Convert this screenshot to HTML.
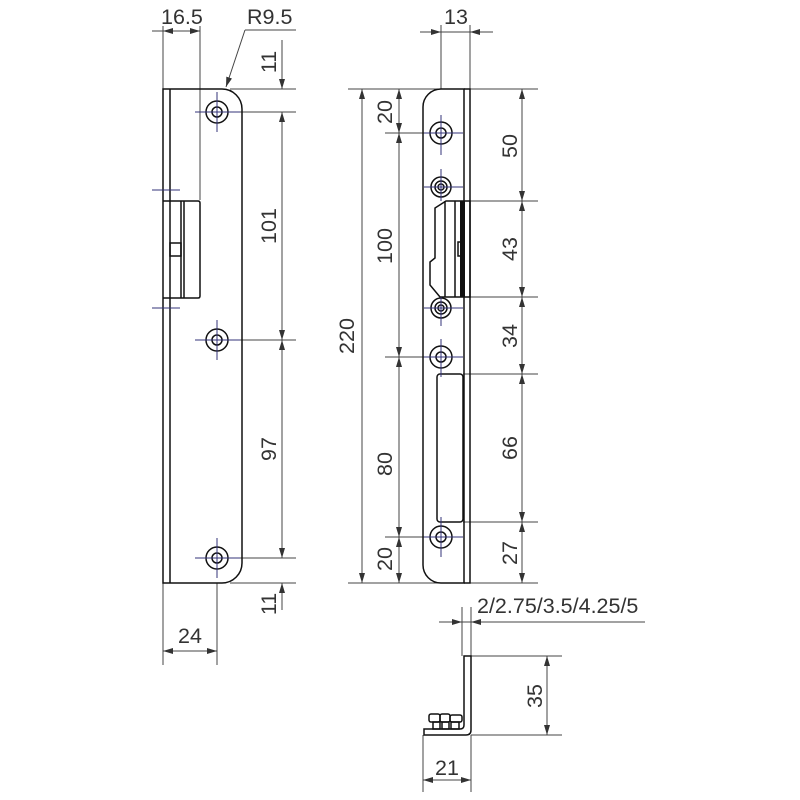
<!DOCTYPE html>
<html><head><meta charset="utf-8"><style>
html,body{margin:0;padding:0;background:#fff;}
svg{display:block;}
text{font-family:"Liberation Sans",Arial,sans-serif;font-size:21.5px;fill:#333;}
</style></head><body>
<svg width="800" height="800" viewBox="0 0 800 800" xmlns="http://www.w3.org/2000/svg">
<defs>
<marker id="a" viewBox="0 0 10 6" refX="10" refY="3" markerWidth="10" markerHeight="6" orient="auto-start-reverse" markerUnits="userSpaceOnUse"><path d="M0,0 L10,3 L0,6 z" fill="#333"/></marker>
</defs>
<g fill="none" stroke="#444" stroke-width="1">
<line x1="163" y1="26" x2="163" y2="200"/>
<line x1="200" y1="26" x2="200" y2="200"/>
<line x1="152" y1="31" x2="163" y2="31"/>
<line x1="200" y1="31" x2="163" y2="31" marker-start="url(#a)" marker-end="url(#a)"/>
<line x1="245" y1="30" x2="296" y2="30"/>
<line x1="245" y1="30" x2="226" y2="87" marker-end="url(#a)"/>
<line x1="230" y1="89" x2="296" y2="89"/>
<line x1="195" y1="112" x2="296" y2="112"/>
<line x1="195" y1="340" x2="296" y2="340"/>
<line x1="195" y1="558" x2="296" y2="558"/>
<line x1="230" y1="583" x2="296" y2="583"/>
<line x1="282" y1="40" x2="282" y2="89" marker-end="url(#a)"/>
<line x1="282" y1="112" x2="282" y2="340" marker-start="url(#a)" marker-end="url(#a)"/>
<line x1="282" y1="340" x2="282" y2="558" marker-start="url(#a)" marker-end="url(#a)"/>
<line x1="282" y1="610" x2="282" y2="583" marker-end="url(#a)"/>
<line x1="163" y1="583" x2="163" y2="665"/>
<line x1="217" y1="583" x2="217" y2="665"/>
<line x1="163" y1="651" x2="217" y2="651" marker-start="url(#a)" marker-end="url(#a)"/>
</g>
<g fill="none" stroke="#111" stroke-width="1.5">
<path d="M163,89 H222 A20,20 0 0 1 242,109 V563 A20,20 0 0 1 222,583 H163 Z"/>
<line x1="170" y1="89" x2="170" y2="583"/>
<path d="M163,201 H198 Q200,201 200,203 V296 Q200,298 198,298 H163"/>
<line x1="181" y1="201" x2="181" y2="298"/>
<line x1="184" y1="201" x2="184" y2="298"/>
<rect x="170" y="243" width="11" height="13"/>
<circle cx="217" cy="112" r="11"/><circle cx="217" cy="112" r="5"/>
<circle cx="217" cy="340" r="11"/><circle cx="217" cy="340" r="5"/>
<circle cx="217" cy="558" r="11"/><circle cx="217" cy="558" r="5"/>
</g>
<g stroke="#33337a" stroke-width="1">
<line x1="195" y1="112" x2="240" y2="112"/><line x1="217" y1="92" x2="217" y2="132"/>
<line x1="195" y1="340" x2="240" y2="340"/><line x1="217" y1="320" x2="217" y2="360"/>
<line x1="195" y1="558" x2="240" y2="558"/><line x1="217" y1="538" x2="217" y2="578"/>
<line x1="152" y1="190" x2="180" y2="190"/><line x1="152" y1="308" x2="180" y2="308"/>
</g>
<text x="161" y="24">16.5</text>
<text x="247" y="24">R9.5</text>
<text transform="translate(276,62) rotate(-90)" text-anchor="middle">11</text>
<text transform="translate(276,226) rotate(-90)" text-anchor="middle">101</text>
<text transform="translate(276,449) rotate(-90)" text-anchor="middle">97</text>
<text transform="translate(276,604) rotate(-90)" text-anchor="middle">11</text>
<text x="190" y="643" text-anchor="middle">24</text>

<g fill="none" stroke="#444" stroke-width="1">
<line x1="348" y1="89" x2="538" y2="89"/>
<line x1="348" y1="583" x2="538" y2="583"/>
<line x1="441" y1="25" x2="441" y2="89"/>
<line x1="470" y1="25" x2="470" y2="89"/>
<line x1="420" y1="32" x2="441" y2="32" marker-end="url(#a)"/>
<line x1="493" y1="32" x2="470" y2="32" marker-end="url(#a)"/>
<line x1="441" y1="32" x2="470" y2="32"/>
<line x1="362" y1="89" x2="362" y2="583" marker-start="url(#a)" marker-end="url(#a)"/>
<line x1="385" y1="133" x2="430" y2="133"/>
<line x1="385" y1="357" x2="430" y2="357"/>
<line x1="385" y1="537" x2="430" y2="537"/>
<line x1="399" y1="89" x2="399" y2="133" marker-start="url(#a)" marker-end="url(#a)"/>
<line x1="399" y1="133" x2="399" y2="357" marker-start="url(#a)" marker-end="url(#a)"/>
<line x1="399" y1="357" x2="399" y2="537" marker-start="url(#a)" marker-end="url(#a)"/>
<line x1="399" y1="537" x2="399" y2="583" marker-start="url(#a)" marker-end="url(#a)"/>
<line x1="470" y1="201" x2="538" y2="201"/>
<line x1="470" y1="297" x2="538" y2="297"/>
<line x1="463" y1="374" x2="538" y2="374"/>
<line x1="463" y1="522" x2="538" y2="522"/>
<line x1="522" y1="89" x2="522" y2="201" marker-start="url(#a)" marker-end="url(#a)"/>
<line x1="522" y1="201" x2="522" y2="297" marker-start="url(#a)" marker-end="url(#a)"/>
<line x1="522" y1="297" x2="522" y2="374" marker-start="url(#a)" marker-end="url(#a)"/>
<line x1="522" y1="374" x2="522" y2="522" marker-start="url(#a)" marker-end="url(#a)"/>
<line x1="522" y1="522" x2="522" y2="583" marker-start="url(#a)" marker-end="url(#a)"/>
</g>
<g fill="none" stroke="#111" stroke-width="1.5">
<path d="M441,89 H464 V583 H441 A18,18 0 0 1 423,565 V107 A18,18 0 0 1 441,89 Z"/>
<path d="M464,89 H470 V583 H464"/>
<path d="M446,201 H470 V297 H440 L430,285 V262 L435,258 V208 Z"/>
<line x1="445" y1="201" x2="445" y2="297"/>
<line x1="455" y1="201" x2="455" y2="297"/>
<rect x="437" y="374" width="26" height="148" rx="3"/>
<circle cx="441" cy="133" r="11"/><circle cx="441" cy="133" r="5"/>
<circle cx="441" cy="187" r="10"/><circle cx="441" cy="187" r="6"/><circle cx="441" cy="187" r="3"/>
<circle cx="441" cy="308" r="10"/><circle cx="441" cy="308" r="6"/><circle cx="441" cy="308" r="3"/>
<circle cx="441" cy="357" r="11"/><circle cx="441" cy="357" r="5"/>
<circle cx="441" cy="537" r="11"/><circle cx="441" cy="537" r="5"/>
<rect x="458" y="242" width="3" height="14"/>
</g>
<rect x="460" y="201" width="5" height="96" fill="#111"/>
<g stroke="#33337a" stroke-width="1">
<line x1="424" y1="133" x2="463" y2="133"/><line x1="441" y1="115" x2="441" y2="155"/>
<line x1="424" y1="187" x2="463" y2="187"/><line x1="441" y1="169" x2="441" y2="201"/>
<line x1="424" y1="308" x2="463" y2="308"/><line x1="441" y1="297" x2="441" y2="326"/>
<line x1="424" y1="357" x2="463" y2="357"/><line x1="441" y1="339" x2="441" y2="377"/>
<line x1="424" y1="537" x2="463" y2="537"/><line x1="441" y1="517" x2="441" y2="557"/>
</g>
<text x="456" y="24" text-anchor="middle">13</text>
<text transform="translate(354,336) rotate(-90)" text-anchor="middle">220</text>
<text transform="translate(392,112) rotate(-90)" text-anchor="middle">20</text>
<text transform="translate(392,246) rotate(-90)" text-anchor="middle">100</text>
<text transform="translate(392,464) rotate(-90)" text-anchor="middle">80</text>
<text transform="translate(392,559) rotate(-90)" text-anchor="middle">20</text>
<text transform="translate(517,146) rotate(-90)" text-anchor="middle">50</text>
<text transform="translate(517,249) rotate(-90)" text-anchor="middle">43</text>
<text transform="translate(517,336) rotate(-90)" text-anchor="middle">34</text>
<text transform="translate(517,448) rotate(-90)" text-anchor="middle">66</text>
<text transform="translate(517,553) rotate(-90)" text-anchor="middle">27</text>

<g fill="none" stroke="#444" stroke-width="1">
<line x1="462" y1="607" x2="462" y2="656"/>
<line x1="471" y1="607" x2="471" y2="656"/>
<line x1="439" y1="622" x2="462" y2="622" marker-end="url(#a)"/>
<line x1="645" y1="622" x2="471" y2="622" marker-end="url(#a)"/>
<line x1="462" y1="622" x2="471" y2="622"/>
<line x1="471" y1="656" x2="562" y2="656"/>
<line x1="471" y1="735" x2="562" y2="735"/>
<line x1="547" y1="656" x2="547" y2="735" marker-start="url(#a)" marker-end="url(#a)"/>
<line x1="423" y1="735" x2="423" y2="792"/>
<line x1="471" y1="735" x2="471" y2="792"/>
<line x1="423" y1="780" x2="471" y2="780" marker-start="url(#a)" marker-end="url(#a)"/>
</g>
<g fill="none" stroke="#111" stroke-width="1.5">
<path d="M464,656 H471 V730 Q471,735 466,735 H424 V729 H460 Q464,729 464,725 Z"/>
<rect x="429" y="714" width="11" height="8" rx="2"/>
<rect x="440" y="714" width="10" height="8" rx="2"/>
<rect x="450" y="715" width="12" height="7" rx="2"/>
<rect x="433" y="722" width="7" height="7"/>
<rect x="442" y="722" width="7" height="7"/>
<rect x="451" y="722" width="8" height="7"/>
</g>
<text x="477" y="613">2/2.75/3.5/4.25/5</text>
<text transform="translate(542,696) rotate(-90)" text-anchor="middle">35</text>
<text x="447" y="775" text-anchor="middle">21</text>
</svg>
</body></html>
